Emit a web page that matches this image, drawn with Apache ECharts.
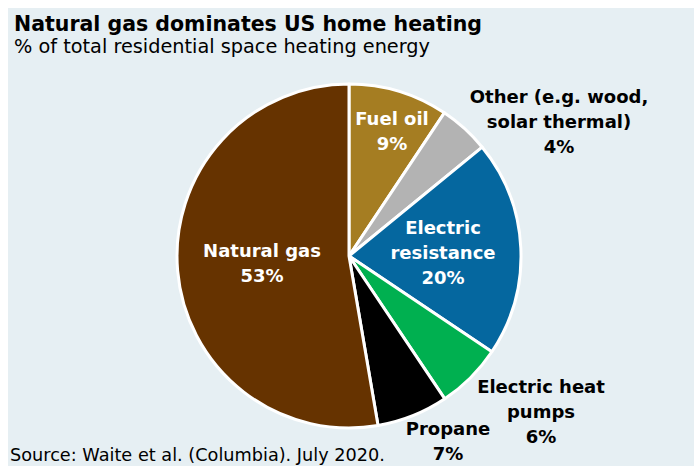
<!DOCTYPE html>
<html>
<head>
<meta charset="utf-8">
<script src="https://cdn.jsdelivr.net/npm/echarts@6/dist/echarts.min.js"></script>
<style>
  html, body { margin: 0; padding: 0; background: #ffffff; }
  #bg { position: absolute; left: 8px; top: 8px; right: 0; bottom: 0; background: #e6eff3; }
  #chart { position: absolute; left: 0; top: 0; width: 694px; height: 466px; }
</style>
</head>
<body>
<div id="bg"></div>
<div id="chart"></div>
<script>
// slices clockwise from 12 o'clock
const categories = ['Fuel oil', 'Other (e.g. wood,\nsolar thermal)', 'Electric\nresistance', 'Electric heat\npumps', 'Propane', 'Natural gas'];
const shares = [9.35, 4.75, 20.3, 6.2, 6.7, 52.7];
const shareLabels = ['9%', '4%', '20%', '6%', '7%', '53%'];
const colors = ['#a57d22', '#b3b3b3', '#05679f', '#00b050', '#000000', '#663300'];
const insideLabel = [true, false, true, false, false, true];

// where each label block is centred (px)
const labelPos = [[392, 131], [559, 121], [443, 252], [541, 411], [448, 441], [262, 263]];

const chart = echarts.init(document.getElementById('chart'), null, { renderer: 'svg' });

const font = '"DejaVu Sans", sans-serif';

const option = {
  animation: false,
  graphic: [
    {
      type: 'text', left: 14, top: 13,
      style: { text: 'Natural gas dominates US home heating', font: 'bold 20.5px ' + font, lineHeight: 20, fill: '#000' }
    },
    {
      type: 'text', left: 14, top: 37,
      style: { text: '% of total residential space heating energy', font: '19.3px ' + font, lineHeight: 16, fill: '#000' }
    },
    {
      type: 'text', left: 10, top: 446,
      style: { text: 'Source: Waite et al. (Columbia). July 2020.', font: '17.7px ' + font, lineHeight: 17, fill: '#000' }
    }
  ],
  series: [{
    type: 'pie',
    center: [349, 256],
    radius: [0, 172],
    startAngle: 90,
    clockwise: true,
    silent: true,
    itemStyle: { borderColor: '#ffffff', borderWidth: 3 },
    labelLine: { show: false },
    label: {
      show: true,
      fontFamily: font,
      fontWeight: 'bold',
      fontSize: 18,
      lineHeight: 25,
      overflow: 'none',
      formatter: p => p.name + '\n' + shareLabels[p.dataIndex]
    },
    labelLayout: p => ({
      x: labelPos[p.dataIndex][0],
      y: labelPos[p.dataIndex][1],
      align: 'center',
      verticalAlign: 'middle'
    }),
    data: categories.map((c, i) => ({
      name: c,
      value: shares[i],
      itemStyle: { color: colors[i] },
      label: { color: insideLabel[i] ? '#ffffff' : '#000000', align: 'center' }
    }))
  }]
};

chart.setOption(option);
</script>
</body>
</html>
